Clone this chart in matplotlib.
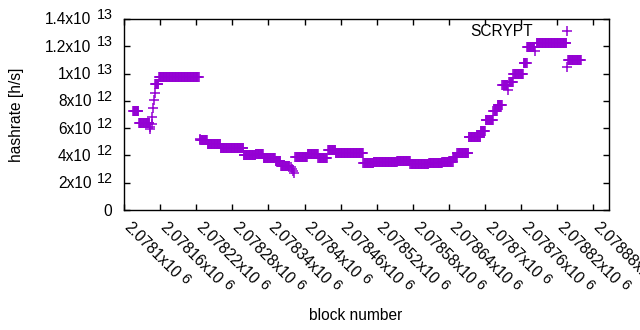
import numpy as np
import matplotlib
matplotlib.use("Agg")
import matplotlib.pyplot as plt
from matplotlib.font_manager import FontProperties
from matplotlib.transforms import ScaledTranslation

plt.rcParams["font.family"] = ["Liberation Sans", "DejaVu Sans"]

# hashrate is constant inside each difficulty window: (first block, last block, rate in 1e12 h/s)
seg_start = [2078115, 2078125, 2078143, 2078144, 2078146, 2078147, 2078149, 2078150,
             2078151, 2078152, 2078158, 2078226, 2078227, 2078239, 2078261, 2078299,
             2078319, 2078332, 2078352, 2078361, 2078377, 2078379, 2078381, 2078383,
             2078385, 2078405, 2078423, 2078439, 2078452, 2078498, 2078515, 2078554,
             2078576, 2078607, 2078629, 2078647, 2078654, 2078673, 2078693, 2078701,
             2078714, 2078721, 2078729, 2078738, 2078740, 2078747, 2078764, 2078770,
             2078783, 2078786, 2078836, 2078838]
seg_end = [2078124, 2078142, 2078143, 2078144, 2078146, 2078147, 2078149, 2078150,
           2078151, 2078157, 2078224, 2078226, 2078238, 2078260, 2078298, 2078318,
           2078331, 2078351, 2078360, 2078375, 2078377, 2078379, 2078381, 2078383,
           2078404, 2078422, 2078437, 2078451, 2078497, 2078514, 2078553, 2078575,
           2078606, 2078628, 2078646, 2078653, 2078672, 2078692, 2078700, 2078713,
           2078720, 2078728, 2078737, 2078738, 2078746, 2078763, 2078769, 2078782,
           2078783, 2078835, 2078836, 2078859]
seg_rate = [7.26, 6.39, 5.95, 6.10, 6.30, 6.85, 7.50, 8.05,
            8.60, 9.27, 9.77, 5.18, 5.11, 4.87, 4.58, 4.02,
            4.14, 3.83, 3.58, 3.25, 3.12, 2.98, 2.84, 2.68,
            3.87, 4.07, 3.78, 4.38, 4.21, 3.48, 3.53, 3.60,
            3.36, 3.45, 3.50, 3.87, 4.21, 5.36, 5.79, 6.59,
            7.28, 7.70, 9.13, 8.76, 9.38, 10.0, 10.8, 11.95,
            11.68, 12.25, 10.46, 10.98]

x_ticks = [2078100, 2078160, 2078220, 2078280, 2078340, 2078400, 2078460,
           2078520, 2078580, 2078640, 2078700, 2078760, 2078820, 2078880]
x_tick_mant = ["2.0781x10", "2.07816x10", "2.07822x10", "2.07828x10", "2.07834x10",
               "2.0784x10", "2.07846x10", "2.07852x10", "2.07858x10", "2.07864x10",
               "2.0787x10", "2.07876x10", "2.07882x10", "2.07888x10"]
x_tick_exp = ["6"] * len(x_ticks)

y_ticks = [0, 2e12, 4e12, 6e12, 8e12, 1e13, 1.2e13, 1.4e13]
y_tick_mant = ["0", "2x10", "4x10", "6x10", "8x10", "1x10", "1.2x10", "1.4x10"]
y_tick_exp = ["", "12", "12", "12", "12", "13", "13", "13"]

FS = 11.2
EXP_FS = 10.3
COLOR = "#9400d3"

blocks = np.concatenate([np.arange(s, e + 1) for s, e in zip(seg_start, seg_end)])
rates = np.concatenate([np.full(e - s + 1, r * 1e12)
                        for s, e, r in zip(seg_start, seg_end, seg_rate)])

fig = plt.figure(figsize=(6.4, 3.3), dpi=100)
ax = fig.add_axes([124 / 640, 120 / 330, 485 / 640, 191 / 330])
ax.plot(blocks, rates, "+", color=COLOR, ms=6.5, mew=1.1, linestyle="none", label="SCRYPT")
ax.set_xlim(2078100, 2078906)
ax.set_ylim(0, 1.4e13)
ax.set_xticks(x_ticks)
ax.set_yticks(y_ticks)
ax.set_xticklabels([])
ax.set_yticklabels([])
ax.tick_params(direction="in", length=4, width=1, top=True, right=True, color="black")
for sp in ax.spines.values():
    sp.set_linewidth(1)
    sp.set_color("black")

dpi = fig.dpi
renderer = fig.canvas.get_renderer()


def px(dx, dy):
    return ScaledTranslation(dx / dpi, dy / dpi, fig.dpi_scale_trans)


def text_w(s, size):
    w, _, _ = renderer.get_text_width_height_descent(
        s, FontProperties(family="Liberation Sans", size=size), ismath=False)
    return w


# y tick labels, gnuplot style "1.4x10 13"
ytr = ax.get_yaxis_transform()
for v, m, e in zip(y_ticks, y_tick_mant, y_tick_exp):
    if e:
        we = text_w(e, EXP_FS)
        ax.text(0, v, e, fontsize=EXP_FS, ha="right", va="baseline",
                transform=ytr + px(-11.5, 0), clip_on=False)
        ax.text(0, v, m, fontsize=FS, ha="right", va="baseline",
                transform=ytr + px(-11.5 - we - 5, -5.5), clip_on=False)
    else:
        ax.text(0, v, m, fontsize=FS, ha="right", va="baseline",
                transform=ytr + px(-11.5, -5.5), clip_on=False)

# x tick labels rotated -45 degrees
xtr = ax.get_xaxis_transform()
c = np.sqrt(0.5)
for b, m, e in zip(x_ticks, x_tick_mant, x_tick_exp):
    ax.text(b, 0, m, fontsize=FS, rotation=-45, rotation_mode="anchor",
            ha="left", va="baseline", transform=xtr + px(-1, -18), clip_on=False)
    d = text_w(m, FS) + 4
    r = 4
    ax.text(b, 0, e, fontsize=EXP_FS, rotation=-45, rotation_mode="anchor",
            ha="left", va="baseline",
            transform=xtr + px(-1 + d * c + r * c, -18 - d * c + r * c), clip_on=False)

ax.legend(loc="center right", bbox_to_anchor=((582.6 - 124) / 485, (210 - 32) / 191),
          frameon=False, markerfirst=False, handlelength=2.0, handletextpad=1.2,
          borderpad=0, borderaxespad=0, fontsize=FS)

fig.text(17 / 640, 1 - 115 / 330, "hashrate [h/s]", rotation=90, ha="center",
         va="center", fontsize=FS)
fig.text(356 / 640, 1 - 315 / 330, "block number", ha="center", va="center", fontsize=FS)

fig.savefig("out.png", dpi=100)
